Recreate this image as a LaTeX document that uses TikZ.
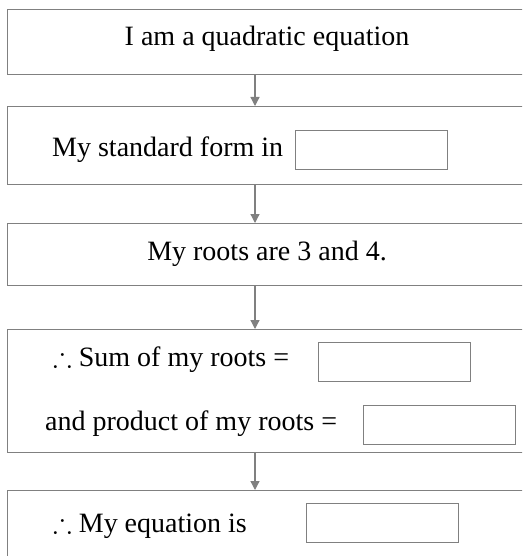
\documentclass[tikz,border=0pt]{standalone}
\usepackage{amssymb}
\usepackage{fontspec}
\setmainfont{Liberation Serif}
\usetikzlibrary{arrows.meta}

\begin{document}
\begin{tikzpicture}[
		x=1pt, y=-1pt
		,font=\fontsize{28}{34}\selectfont
		,stage/.style={draw=gray, line width=1.3pt, anchor=north west, minimum width=540pt, inner sep=0pt}
		,blank/.style={draw=gray, line width=1.1pt, anchor=north west, minimum width=152pt, minimum height=39pt, inner sep=0pt}
		,txt/.style={anchor=west, inner sep=0pt}
		,link/.style={draw=gray, line width=1.3pt, -{Triangle[width=9pt,length=9pt]}}
	]
		\useasboundingbox (0,0) rectangle (522,556);
		\clip (0,0) rectangle (522,556);
		\coordinate (axis) at (255,0);

		\node[stage, minimum height=65pt] (Q) at (7,9) {};
		\node[stage, minimum height=78pt] (S) at (7,106) {};
		\node[stage, minimum height=62pt] (R) at (7,223) {};
		\node[stage, minimum height=123pt] (P) at (7,329) {};
		\node[stage, minimum height=90pt] (E) at (7,490) {};

		\node at (267,39) {I am a quadratic equation};
		\node[txt] (s) at (52,150) {My standard form in};
		\node[blank] (sb) at (295,130) {};
		\node at (267,254) {My roots are 3 and 4.};
		\node[txt] (p1) at (53,360) {$\therefore$ Sum of my roots =};
		\node[blank] (pb1) at (318,342) {};
		\node[txt] (p2) at (45,424) {and product of my roots =};
		\node[blank] (pb2) at (363,405) {};
		\node[txt] (e) at (53,526) {$\therefore$ My equation is};
		\node[blank] (eb) at (306,503) {};

		\draw[link] (Q.south -| axis) -- (S.north -| axis);
		\draw[link] (S.south -| axis) -- (R.north -| axis);
		\draw[link] (R.south -| axis) -- (P.north -| axis);
		\draw[link] (P.south -| axis) -- (E.north -| axis);
	\end{tikzpicture}
\end{document}
